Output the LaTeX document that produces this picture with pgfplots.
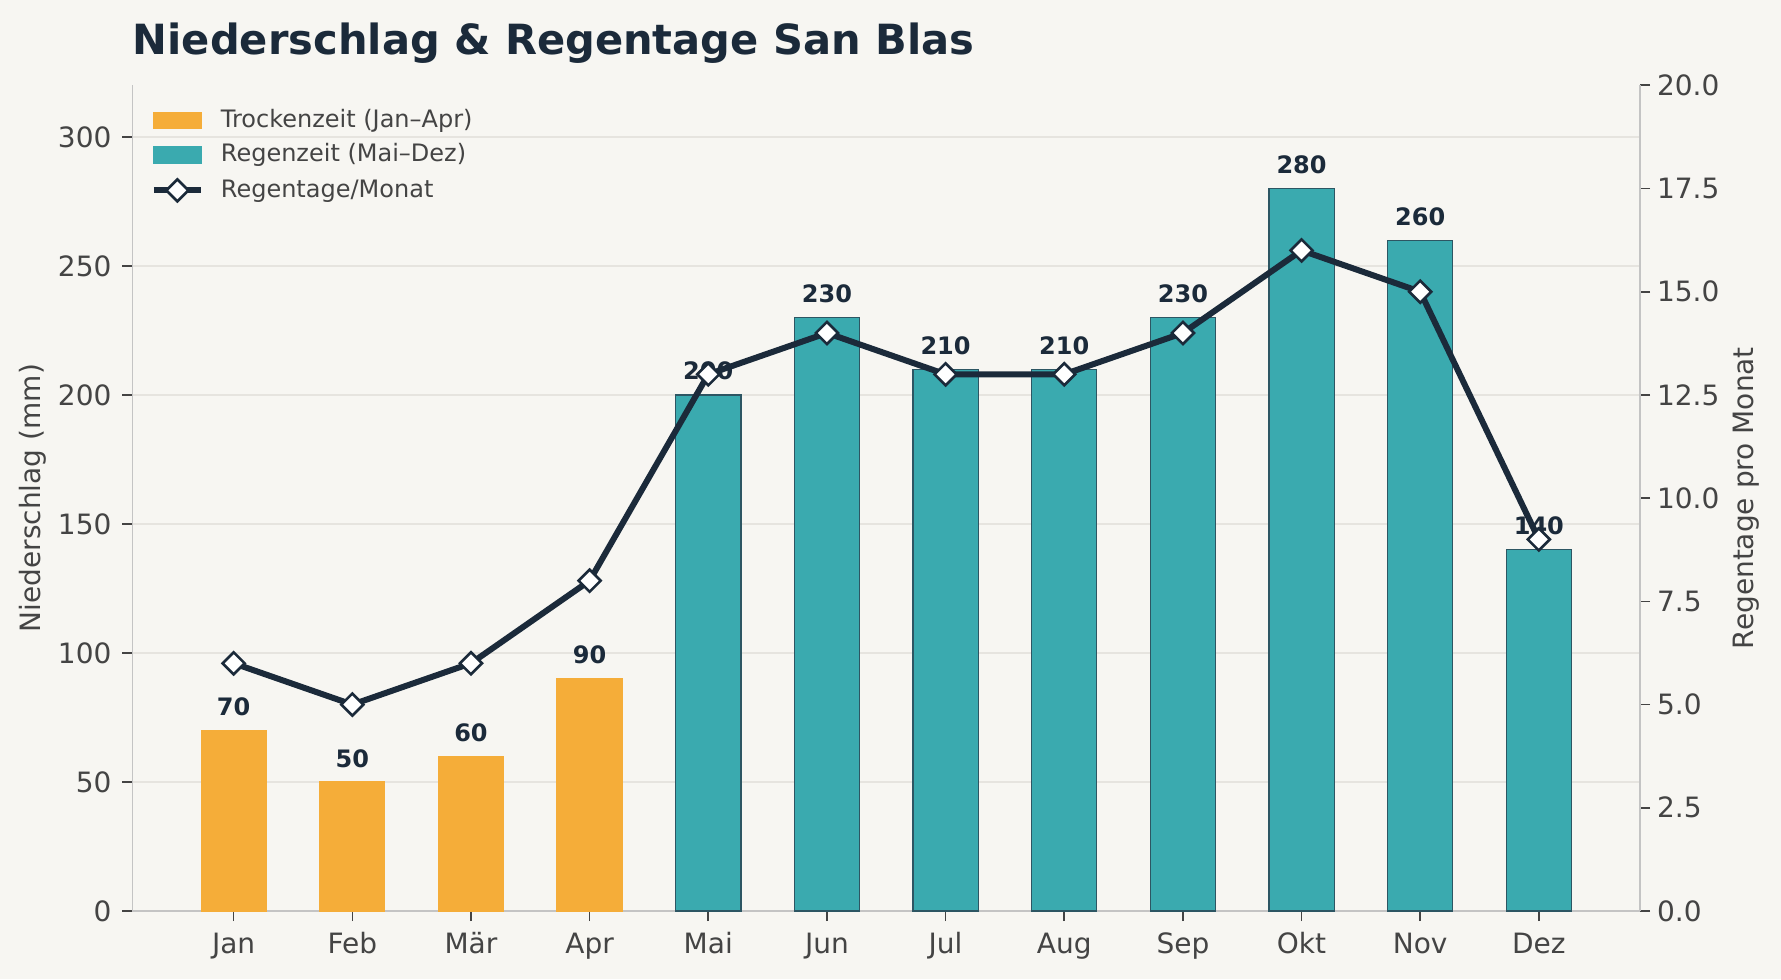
\documentclass[border=0pt]{standalone}
\usepackage{pgfplots}
\usepackage{pgfplotstable}
\pgfplotsset{compat=1.18}
\usepackage{fontspec}
\setmainfont{DejaVu Sans}
\definecolor{bg}{HTML}{F7F6F2}
\definecolor{dryc}{HTML}{F5AD39}
\definecolor{wetc}{HTML}{3AAAAF}
\definecolor{wetedge}{HTML}{2D5663}
\definecolor{navy}{HTML}{1B2A3A}
\definecolor{tickc}{HTML}{444444}
\definecolor{gridc}{HTML}{E6E4DF}
\definecolor{spinec}{HTML}{C4C4C4}

\pgfplotstableread{
x p
0 70
1 50
2 60
3 90
}\dry
\pgfplotstableread{
x p
4 200
5 230
6 210
7 210
8 230
9 280
10 260
11 140
}\wet
\pgfplotstableread{
x d
0 6
1 5
2 6
3 8
4 13
5 14
6 13
7 13
8 14
9 16
10 15
11 9
}\days

\pgfplotsset{
  common/.style={
    width=753.75pt, height=412.85pt, scale only axis,
    at={(0,0)}, anchor=south west,
    xmin=-0.8525, xmax=11.8525,
    axis line style={-, draw=spinec, line width=0.6pt},
    tick align=outside, major tick length=5pt,
    tick style={draw=tickc, line width=0.8pt},
    /pgf/number format/assume math mode=true,
    ticklabel style={font=\fontsize{14}{16}\selectfont, text=tickc},
    label style={font=\fontsize{14}{16}\selectfont, text=tickc},
  }
}

\begin{document}
\begin{tikzpicture}
\fill[bg] (-66.25pt,-34pt) rectangle (824.25pt,455.5pt);
\begin{axis}[common,
  ymin=0, ymax=320,
  axis x line*=bottom, axis y line*=left,
  xtick={0,...,11},
  xticklabels={Jan,Feb,Mär,Apr,Mai,Jun,Jul,Aug,Sep,Okt,Nov,Dez},
  xticklabel style={yshift=-2.3pt},
  yticklabel style={xshift=-2pt},
  ytick={0,50,...,300},
  ymajorgrids, grid style={draw=gridc, line width=0.7pt},
  ylabel={Niederschlag (mm)},
  ylabel style={at={(axis description cs:-0.066,0.5)}, anchor=center},
  every node near coord/.append style={font=\bfseries\fontsize{12}{14}\selectfont, text=navy, anchor=south, inner sep=0pt, yshift=7pt},
  legend style={at={(rel axis cs:0,1)}, anchor=north west, xshift=9pt, yshift=-12pt,
    draw=none, fill=none, inner sep=0pt, row sep=3.5pt,
    font=\fontsize{12}{14}\selectfont, text=tickc,
    nodes={inner sep=0pt, text height=8.8pt, text depth=4.8pt},
    /tikz/every odd column/.append style={column sep=8.5pt}},
  legend cell align=left,
]
\addplot[ybar, bar width=0.55, bar shift=0pt, fill=dryc, draw=dryc, line width=0.5pt,
  nodes near coords, forget plot] table[x=x, y=p] {\dry};
\addplot[ybar, bar width=0.55, bar shift=0pt, fill=wetc, draw=wetedge, line width=0.6pt,
  nodes near coords, forget plot] table[x=x, y=p] {\wet};
\addlegendimage{legend image code/.code={\fill[dryc] (0pt,-2.8pt) rectangle (23.5pt,5.5pt);}}
\addlegendentry{Trockenzeit (Jan–Apr)}
\addlegendimage{legend image code/.code={\fill[wetc] (0pt,-2.8pt) rectangle (23.5pt,5.5pt);}}
\addlegendentry{Regenzeit (Mai–Dez)}
\addlegendimage{legend image code/.code={%
  \draw[navy, line width=3pt] (0pt,1.4pt) -- (23.5pt,1.4pt);
  \draw[navy, line width=1.3pt, fill=white] (11.75pt,-4.1pt) -- (17.25pt,1.4pt) -- (11.75pt,6.9pt) -- (6.25pt,1.4pt) -- cycle;}}
\addlegendentry{Regentage/Monat}
\end{axis}
\begin{axis}[common,
  ymin=0, ymax=20,
  axis x line=none, axis y line*=right,
  ytick={0,2.5,...,20},
  yticklabel style={/pgf/number format/.cd, fixed, fixed zerofill, precision=1},
  ylabel={Regentage pro Monat},
  ylabel style={at={(axis description cs:1.0703,0.5)}, anchor=center},
]
\addplot[navy, line width=3pt, mark=square*, mark size=3.9pt,
  mark options={rotate=45, fill=white, draw=navy, line width=1.3pt}] table[x=x, y=d] {\days};
\end{axis}
\node[anchor=base west, inner sep=0pt, font=\bfseries\fontsize{20.8}{25}\selectfont, text=navy] at (0pt,428pt) {Niederschlag \& Regentage San Blas};
\pgfresetboundingbox
\path (-66.25pt,-34pt) rectangle (824.25pt,455.5pt);
\end{tikzpicture}
\end{document}
